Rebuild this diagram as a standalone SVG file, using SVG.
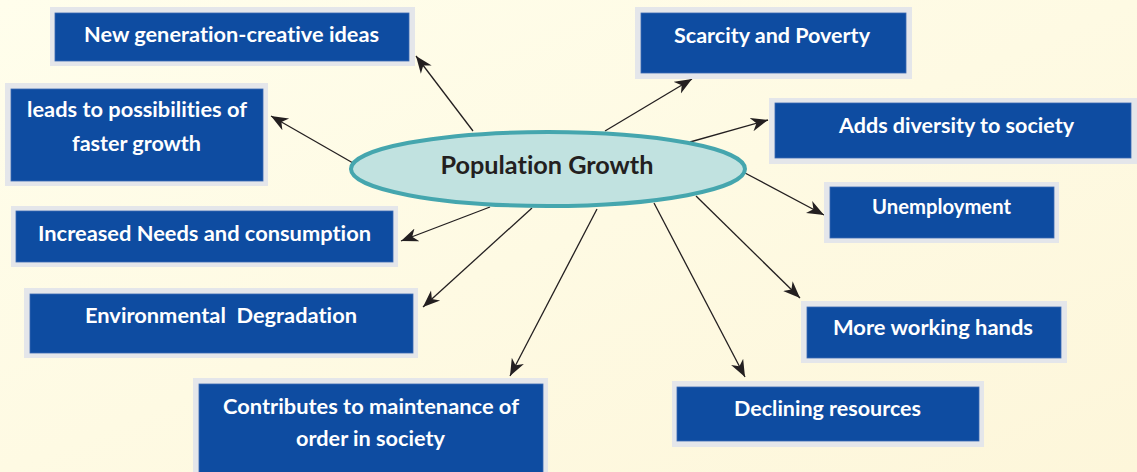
<svg xmlns="http://www.w3.org/2000/svg" width="1137" height="472" viewBox="0 0 1137 472">
<defs>
<linearGradient id="bg" x1="0" y1="0" x2="1" y2="1">
<stop offset="0" stop-color="#fffeec"/>
<stop offset="1" stop-color="#fdf6da"/>
</linearGradient>
<marker id="ah" viewBox="-17 -8 18 16" markerWidth="18" markerHeight="16" refX="0" refY="0" orient="auto" markerUnits="userSpaceOnUse">
<path d="M0,0 L-17,-6.8 L-12,0 L-17,6.8 Z" fill="#231f20"/>
</marker>
</defs>
<style>
.frame{fill:#e4e6ea}
.box{fill:#0e4ca1;stroke:#3a69b3;stroke-width:0.8}
.lbl{font-family:Lato,"Open Sans","Liberation Sans",sans-serif;font-weight:bold;font-size:21px;fill:#ffffff;text-anchor:middle;font-variant-ligatures:none;font-feature-settings:"liga" 0}
.title{font-family:Lato,"Open Sans","Liberation Sans",sans-serif;font-weight:bold;font-size:25px;fill:#231f20;text-anchor:middle;font-variant-ligatures:none;font-feature-settings:"liga" 0}
.conn line{stroke:#231f20;stroke-width:1.3;marker-end:url(#ah)}
</style>
<rect x="0" y="0" width="1137" height="472" fill="url(#bg)"/>

<g id="connectors" class="conn">
<line x1="473" y1="131" x2="416" y2="56"/>
<line x1="353" y1="163" x2="271" y2="116"/>
<line x1="605" y1="131" x2="692" y2="79"/>
<line x1="690" y1="142" x2="768" y2="120"/>
<line x1="745" y1="173" x2="824" y2="215"/>
<line x1="696" y1="196" x2="800" y2="298"/>
<line x1="654" y1="203" x2="745" y2="377"/>
<line x1="597" y1="209" x2="510" y2="376"/>
<line x1="532" y1="208" x2="423" y2="307"/>
<line x1="490" y1="207" x2="401" y2="241"/>
</g>

<g id="center">
<ellipse cx="548" cy="169" rx="197" ry="37" fill="#c1e2e0" stroke="#45a6ae" stroke-width="4"/>
<text class="title" x="547" y="174" textLength="213" lengthAdjust="spacingAndGlyphs">Population Growth</text>
</g>

<g id="n-new-generation">
<rect class="frame" x="50" y="7" width="365" height="59"/>
<rect class="box" x="55" y="13" width="354" height="48"/>
<text class="lbl" x="231.5" y="42" textLength="295" lengthAdjust="spacingAndGlyphs">New generation-creative ideas</text>
</g>

<g id="n-faster-growth">
<rect class="frame" x="5" y="83" width="263" height="103"/>
<rect class="box" x="11" y="89" width="252" height="92"/>
<text class="lbl" x="137" y="117" textLength="220" lengthAdjust="spacingAndGlyphs">leads to possibilities of</text>
<text class="lbl" x="136.5" y="151" textLength="129" lengthAdjust="spacingAndGlyphs">faster growth</text>
</g>

<g id="n-needs">
<rect class="frame" x="11" y="206" width="387" height="61"/>
<rect class="box" x="16" y="211" width="377" height="51"/>
<text class="lbl" x="204.5" y="241" textLength="333" lengthAdjust="spacingAndGlyphs">Increased Needs and consumption</text>
</g>

<g id="n-environment">
<rect class="frame" x="24" y="288" width="394" height="70"/>
<rect class="box" x="30" y="294" width="383" height="59"/>
<text class="lbl" x="221" y="323" textLength="272" lengthAdjust="spacingAndGlyphs" xml:space="preserve">Environmental  Degradation</text>
</g>

<g id="n-order">
<rect class="frame" x="193" y="378" width="355" height="100"/>
<rect class="box" x="199" y="384" width="344" height="94"/>
<text class="lbl" x="371" y="414" textLength="296" lengthAdjust="spacingAndGlyphs">Contributes to maintenance of</text>
<text class="lbl" x="370.5" y="446" textLength="149" lengthAdjust="spacingAndGlyphs">order in society</text>
</g>

<g id="n-scarcity">
<rect class="frame" x="635" y="7" width="277" height="72"/>
<rect class="box" x="641" y="13" width="265" height="60"/>
<text class="lbl" x="772" y="43" textLength="196" lengthAdjust="spacingAndGlyphs">Scarcity and Poverty</text>
</g>

<g id="n-diversity">
<rect class="frame" x="769" y="98" width="372" height="66"/>
<rect class="box" x="775" y="103" width="356" height="55"/>
<text class="lbl" x="956.5" y="133" textLength="235" lengthAdjust="spacingAndGlyphs">Adds diversity to society</text>
</g>

<g id="n-unemployment">
<rect class="frame" x="824" y="182" width="235" height="61"/>
<rect class="box" x="830" y="187" width="224" height="51"/>
<text class="lbl" x="941.5" y="214" textLength="139" lengthAdjust="spacingAndGlyphs">Unemployment</text>
</g>

<g id="n-working-hands">
<rect class="frame" x="801" y="301" width="266" height="62"/>
<rect class="box" x="807" y="307" width="254" height="51"/>
<text class="lbl" x="933" y="335" textLength="200" lengthAdjust="spacingAndGlyphs">More working hands</text>
</g>

<g id="n-declining">
<rect class="frame" x="672" y="381" width="312" height="66"/>
<rect class="box" x="677" y="387" width="302" height="54"/>
<text class="lbl" x="827.5" y="416" textLength="187" lengthAdjust="spacingAndGlyphs">Declining resources</text>
</g>
</svg>
